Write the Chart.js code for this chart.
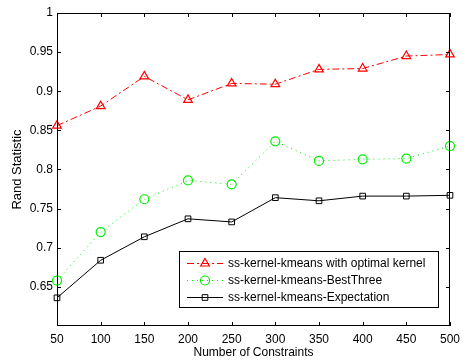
<!DOCTYPE html>
<html>
<head>
<meta charset="utf-8">
<script src="https://cdn.jsdelivr.net/npm/chart.js@4/dist/chart.umd.min.js"></script>
<style>
  html, body { margin: 0; padding: 0; background: #fff; }
  #wrap { width: 466px; height: 363px; }
</style>
</head>
<body>
<div id="wrap"><canvas id="grafico" width="466" height="363"></canvas></div>
<script>
const constraints = [50, 100, 150, 200, 250, 300, 350, 400, 450, 500];
const optimalKernel = [0.856, 0.881, 0.919, 0.889, 0.910, 0.909, 0.928, 0.929, 0.945, 0.947];
const bestThree = [0.658, 0.720, 0.762, 0.786, 0.781, 0.836, 0.811, 0.813, 0.814, 0.830];
const expectation = [0.636, 0.684, 0.714, 0.737, 0.733, 0.764, 0.760, 0.766, 0.766, 0.767];
const yTicks = [0.65, 0.7, 0.75, 0.8, 0.85, 0.9, 0.95, 1];
const seriesNames = ['ss-kernel-kmeans with optimal kernel', 'ss-kernel-kmeans-BestThree', 'ss-kernel-kmeans-Expectation'];

const fonte = 'Arial, "Liberation Sans", Helvetica, sans-serif';

function pontos(valores) {
    return constraints.map((c, i) => ({ x: c, y: valores[i] }));
}

// caixa do eixo com ticks para dentro (estilo MATLAB) + legenda
const caixaMatlab = {
    id: 'caixaMatlab',
    afterDraw(chart) {
        const ctx = chart.ctx;
        const a = chart.chartArea;
        const sx = chart.scales.x, sy = chart.scales.y;
        ctx.save();
        ctx.strokeStyle = '#000';
        ctx.lineWidth = 1;
        ctx.strokeRect(a.left + 0.5, a.top + 0.5, a.right - a.left - 1, a.bottom - a.top - 1);
        ctx.beginPath();
        constraints.forEach(c => {
            const x = Math.round(sx.getPixelForValue(c)) + 0.5;
            ctx.moveTo(x, a.bottom); ctx.lineTo(x, a.bottom - 4);
            ctx.moveTo(x, a.top); ctx.lineTo(x, a.top + 4);
        });
        yTicks.forEach(v => {
            const y = Math.round(sy.getPixelForValue(v)) + 0.5;
            ctx.moveTo(a.left, y); ctx.lineTo(a.left + 4, y);
            ctx.moveTo(a.right, y); ctx.lineTo(a.right - 4, y);
        });
        ctx.stroke();

        // legenda
        const lx = 179.5, ly = 251.5, lw = 259, lh = 56;
        ctx.fillStyle = '#fff';
        ctx.fillRect(lx, ly, lw, lh);
        ctx.strokeRect(lx, ly, lw, lh);
        const linhas = [263, 280, 297];
        chart.data.datasets.forEach((ds, i) => {
            const y = linhas[i] + 0.5;
            ctx.strokeStyle = ds.borderColor;
            ctx.lineWidth = 1;
            ctx.setLineDash(ds.borderDash || []);
            ctx.beginPath();
            ctx.moveTo(187, y); ctx.lineTo(223, y);
            ctx.stroke();
            ctx.setLineDash([]);
            ctx.fillStyle = 'rgba(0,0,0,0)';
            ctx.lineWidth = ds.pointBorderWidth;
            Chart.helpers.drawPoint(ctx, {
                pointStyle: ds.pointStyle, radius: ds.pointRadius, rotation: 0, borderWidth: ds.pointBorderWidth
            }, 205, y);
            ctx.fillStyle = '#000';
            ctx.font = '12px ' + fonte;
            ctx.textBaseline = 'middle';
            ctx.textAlign = 'left';
            ctx.fillText(ds.label, 228, y);
        });
        ctx.restore();
    }
};

const ctx = document.getElementById('grafico').getContext('2d');
const myChart = new Chart(ctx, {
    type: 'line',
    data: {
        datasets: [{
            label: seriesNames[0],
            data: pontos(optimalKernel),
            borderColor: '#ff0000',
            borderWidth: 1,
            borderDash: [7, 3, 2, 3],
            pointStyle: 'triangle',
            pointRadius: 5,
            pointBorderColor: '#ff0000',
            pointBackgroundColor: 'rgba(0,0,0,0)',
            pointBorderWidth: 1.2,
            clip: false,
            tension: 0
        }, {
            label: seriesNames[1],
            data: pontos(bestThree),
            borderColor: '#00ee00',
            borderWidth: 1,
            borderDash: [1, 4],
            pointStyle: 'circle',
            pointRadius: 4.5,
            pointBorderColor: '#00ee00',
            pointBackgroundColor: 'rgba(0,0,0,0)',
            pointBorderWidth: 1.2,
            clip: false,
            tension: 0
        }, {
            label: seriesNames[2],
            data: pontos(expectation),
            borderColor: '#000000',
            borderWidth: 1,
            pointStyle: 'rect',
            pointRadius: 4,
            pointBorderColor: '#000000',
            pointBackgroundColor: 'rgba(0,0,0,0)',
            pointBorderWidth: 1,
            clip: false,
            tension: 0
        }]
    },
    options: {
        responsive: false,
        animation: false,
        layout: { padding: { top: 13, right: 10, left: 0, bottom: 0 } },
        scales: {
            x: {
                type: 'linear',
                min: 50,
                max: 500,
                afterBuildTicks: s => { s.ticks = constraints.map(v => ({ value: v })); },
                afterFit: s => { s.height = 37; },
                grid: { display: false, drawTicks: false },
                border: { display: false },
                ticks: { color: '#000', font: { family: fonte, size: 12 }, padding: 6, maxRotation: 0 },
                title: { display: true, text: 'Number of Constraints', color: '#000', font: { family: fonte, size: 12 }, padding: { top: 0, bottom: 3 } }
            },
            y: {
                min: 0.6,
                max: 1,
                afterBuildTicks: s => { s.ticks = yTicks.map(v => ({ value: v })); },
                afterFit: s => { s.width = 57; },
                grid: { display: false, drawTicks: false },
                border: { display: false },
                ticks: { color: '#000', font: { family: fonte, size: 12 }, padding: 4, callback: v => String(+v.toFixed(2)) },
                title: { display: true, text: 'Rand Statistic', color: '#000', font: { family: fonte, size: 13 }, padding: { top: 10, bottom: 0 } }
            }
        },
        plugins: {
            legend: { display: false },
            tooltip: { enabled: false }
        }
    },
    plugins: [caixaMatlab]
});
window.myChart = myChart;
</script>
</body>
</html>
